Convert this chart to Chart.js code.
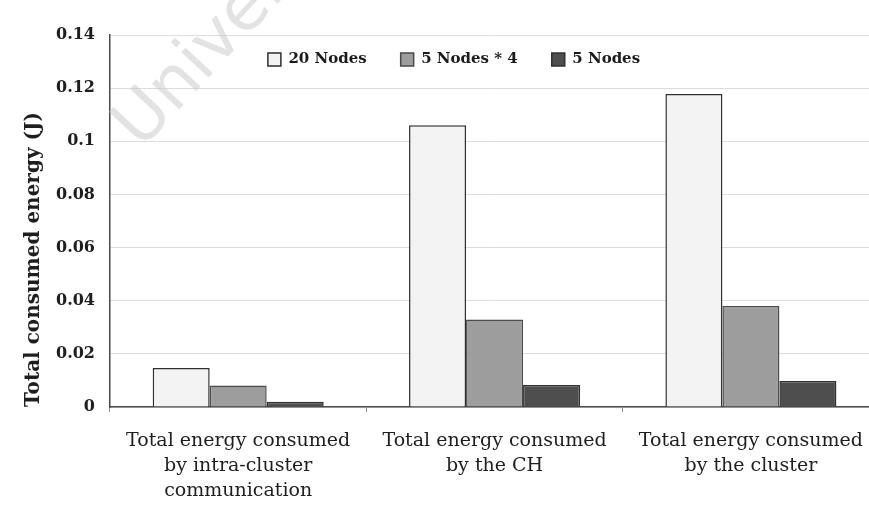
<!DOCTYPE html>
<html>
<head>
<meta charset="utf-8">
<script src="https://cdn.jsdelivr.net/npm/chart.js@4/dist/chart.umd.min.js"></script>
<style>
  html, body { margin: 0; padding: 0; background: #ffffff; overflow: hidden; }
  #wrap { position: relative; width: 880px; height: 517px; }
</style>
</head>
<body>
<div id="wrap"><canvas id="c"></canvas></div>
<script>
// Categories (multi-line axis labels)
const categories = [
  ["Total energy consumed", "by intra-cluster", "communication"],
  ["Total energy consumed", "by the CH"],
  ["Total energy consumed", "by the cluster"]
];

// Series values (J)
const seriesNames = ["20 Nodes", "5 Nodes * 4", "5 Nodes"];
const nodes20  = [0.0147, 0.1060, 0.1178];
const nodes5x4 = [0.0081, 0.0329, 0.0380];
const nodes5   = [0.0020, 0.0083, 0.0098];

// Y-axis tick labels
const yTickLabels = ["0", "0.02", "0.04", "0.06", "0.08", "0.1", "0.12", "0.14"];
const yTitle = "Total consumed energy (J)";

const SERIF = "'DejaVu Serif', 'Liberation Serif', serif";

// Horizontal legend that takes no layout space and floats inside the plot
const legendInside = {
  id: 'legendInside',
  beforeLayout(chart) {
    const lg = chart.legend;
    if (!lg || lg._zeroFit) return;
    const fit = lg.fit;
    lg.fit = function () { fit.call(this); this.height = 0; };
    lg._zeroFit = true;
  },
  afterLayout(chart) {
    const lg = chart.legend;
    if (!lg) return;
    const dx = 454 - (lg.left + lg.right) / 2;
    lg.left += dx; lg.right += dx;
    lg.width = lg.right - lg.left;
    lg.top = chart.chartArea.top - 17;
    lg.height = 80;
    lg.bottom = lg.top + lg.height;
  }
};

// Faint background stamp in the upper-left
const stamp = {
  id: 'stamp',
  beforeDatasetsDraw(chart) {
    const ctx = chart.ctx;
    ctx.save();
    ctx.translate(128, 138);
    ctx.rotate(-0.82);
    ctx.font = "68px 'DejaVu Sans', sans-serif";
    ctx.fillStyle = "rgba(200,200,200,0.5)";
    ctx.fillText("University", 0, 0);
    ctx.restore();
  }
};

new Chart(document.getElementById('c'), {
  type: 'bar',
  data: {
    labels: categories,
    datasets: [
      { label: seriesNames[0], data: nodes20,  backgroundColor: '#f3f3f3', borderColor: '#2e2e2e', borderWidth: 1.5 },
      { label: seriesNames[1], data: nodes5x4, backgroundColor: '#9d9d9d', borderColor: '#4a4a4a', borderWidth: 1.5 },
      { label: seriesNames[2], data: nodes5,   backgroundColor: '#4e4e4e', borderColor: '#303030', borderWidth: 1.5 }
    ]
  },
  options: {
    responsive: true,
    maintainAspectRatio: false,
    animation: false,
    layout: { padding: { top: 35, right: 0, bottom: 0, left: 0 } },
    datasets: { bar: { categoryPercentage: 0.667, barPercentage: 1.0 } },
    plugins: {
      tooltip: { enabled: false },
      legend: {
        position: 'top',
        align: 'center',
        labels: {
          boxWidth: 13,
          boxHeight: 13,
          padding: 34,
          color: '#1a1a1a',
          font: { family: SERIF, size: 15, weight: 'bold' }
        }
      }
    },
    scales: {
      x: {
        offset: true,
        border: { display: true, color: '#4a4a4a', width: 1.5 },
        grid: { display: true, drawOnChartArea: false, drawTicks: true, tickLength: 5, color: '#888888' },
        ticks: {
          maxRotation: 0,
          minRotation: 0,
          autoSkip: false,
          padding: 17,
          color: '#1e1e1e',
          font: { family: SERIF, size: 19, lineHeight: 1.3 }
        },
        afterFit(scale) { scale.height = 110; }
      },
      y: {
        min: 0,
        max: 0.14,
        border: { display: true, color: '#4a4a4a', width: 1.5 },
        grid: { color: '#dcdcdc', lineWidth: 1, drawTicks: false },
        ticks: {
          stepSize: 0.02,
          padding: 15,
          color: '#1e1e1e',
          font: { family: SERIF, size: 16, weight: 'bold' },
          callback: (v) => {
            const i = Math.round(v / 0.02);
            return yTickLabels[i] !== undefined ? yTickLabels[i] : '';
          }
        },
        title: {
          display: true,
          text: yTitle,
          align: 'start',
          color: '#1e1e1e',
          padding: { top: 22, bottom: 0 },
          font: { family: SERIF, size: 20, weight: 'bold' }
        },
        afterFit(scale) { scale.width = 110; }
      }
    }
  },
  plugins: [legendInside, stamp]
});
</script>
</body>
</html>
